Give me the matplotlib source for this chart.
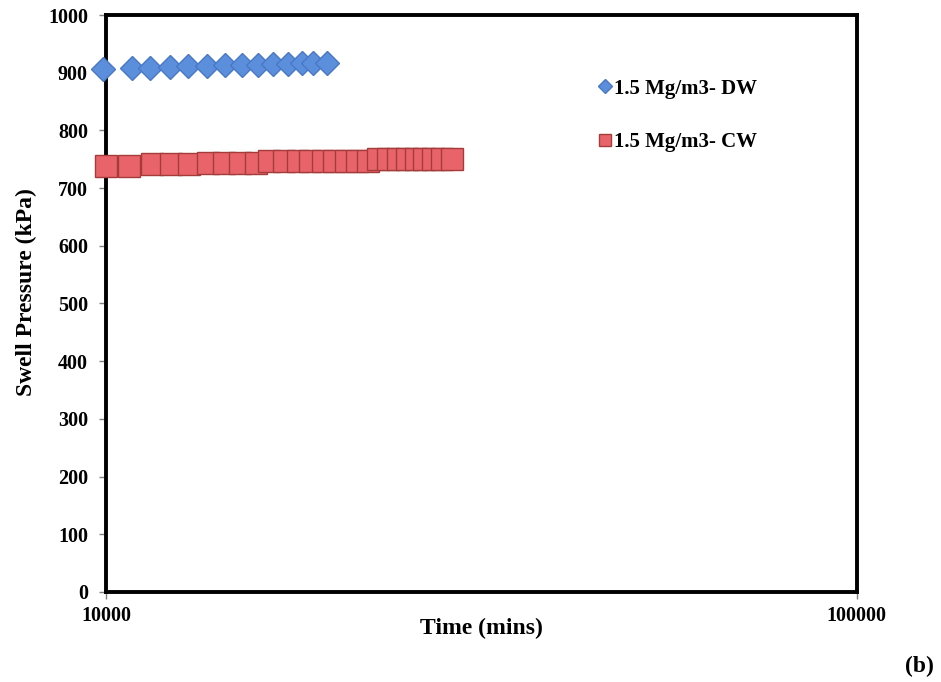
import matplotlib.pyplot as plt
from matplotlib.ticker import FixedLocator, NullLocator, FixedFormatter

# Swell pressure readings (time in mins, pressure in kPa)
dw_time = [9910, 10830, 11450, 12170, 12860, 13630, 14400, 15170,
           15940, 16690, 17480, 18230, 18860, 19690]
dw_pressure = [907, 908, 909, 910, 911, 912, 913, 913, 914, 915, 915, 916, 916, 917]

cw_time = [10000, 10730, 11510, 12200, 12900, 13670, 14360, 15080, 15840,
           16480, 17260, 18010, 18690, 19450, 20120, 20870, 21590, 22330,
           23020, 23740, 24480, 25160, 25870, 26510, 27250, 28010, 28880]
cw_pressure = [738, 738, 741, 741, 741, 744, 744, 744, 744, 747, 747, 747,
               747, 747, 747, 747, 747, 747, 750, 750, 750, 750, 750, 750,
               750, 750, 750]

dw_label = '1.5 Mg/m3- DW'
cw_label = '1.5 Mg/m3- CW'

y_ticks = [0, 100, 200, 300, 400, 500, 600, 700, 800, 900, 1000]
x_ticks = [10000, 100000]
x_tick_labels = ['10000', '100000']


def main():
    plt.rcParams['font.family'] = ['Liberation Serif', 'DejaVu Serif']
    plt.rcParams['font.weight'] = 'bold'

    fig = plt.figure(figsize=(9.41, 6.82), dpi=100)
    ax = fig.add_axes([0.1126, 0.132, 0.798, 0.846])

    ax.plot(cw_time, cw_pressure, linestyle='none', marker='s', markersize=15.5,
            markerfacecolor='#e8646a', markeredgecolor='#a43c3c',
            markeredgewidth=1.0, label=cw_label, zorder=3, clip_on=False)
    ax.plot(dw_time, dw_pressure, linestyle='none', marker='D', markersize=12,
            markerfacecolor='#5b8fdc', markeredgecolor='#4a78c4',
            markeredgewidth=1.0, label=dw_label, zorder=4, clip_on=False)

    ax.set_xscale('log')
    ax.set_xlim(10000, 100000)
    ax.set_ylim(0, 1000)
    ax.xaxis.set_major_locator(FixedLocator(x_ticks))
    ax.xaxis.set_major_formatter(FixedFormatter(x_tick_labels))
    ax.xaxis.set_minor_locator(NullLocator())
    ax.set_yticks(y_ticks)

    ax.tick_params(axis='both', labelsize=14.5, direction='out', length=5,
                   width=1, color='#808080')
    ax.tick_params(axis='x', pad=5)
    ax.tick_params(axis='y', pad=8)
    for lab in ax.get_xticklabels() + ax.get_yticklabels():
        lab.set_fontweight('bold')

    for side in ['top', 'right', 'left', 'bottom']:
        ax.spines[side].set_linewidth(2.8)
        ax.spines[side].set_color('black')

    ax.set_xlabel('Time (mins)', fontsize=17, fontweight='bold')
    ax.set_ylabel('Swell Pressure (kPa)', fontsize=17, fontweight='bold')
    ax.xaxis.set_label_coords(0.5, -0.045)
    ax.yaxis.set_label_coords(-0.092, 0.52)

    handles, labels = ax.get_legend_handles_labels()
    ax.legend(handles[::-1], labels[::-1], loc='upper left',
              bbox_to_anchor=(0.631, 0.922), frameon=False,
              prop={'family': 'Liberation Serif', 'weight': 'bold', 'size': 15},
              handlelength=0.6, handletextpad=0.15, labelspacing=1.6,
              markerscale=0.6)

    fig.text(0.9615, 0.015, '(b)', fontsize=17, fontweight='bold')

    fig.savefig('out.png', dpi=100)
    plt.close(fig)


if __name__ == '__main__':
    main()
